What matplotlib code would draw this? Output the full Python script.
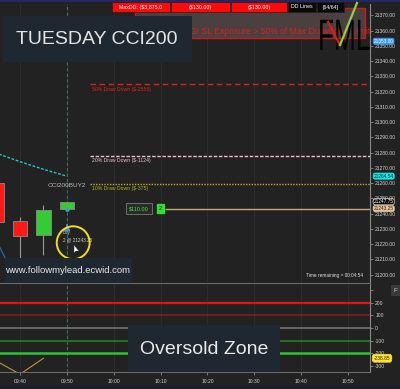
import matplotlib
matplotlib.use('Agg')
import matplotlib.pyplot as plt
from matplotlib.patches import Rectangle, PathPatch, Polygon
from matplotlib.lines import Line2D
from matplotlib.textpath import TextPath
from matplotlib.font_manager import FontProperties
from matplotlib.transforms import Affine2D, blended_transform_factory

plt.rcParams['font.family'] = ['Liberation Sans', 'DejaVu Sans']

W, H = 400, 389
BG = '#222222'

# 5 minute candles, time in minutes after midnight
candle_time = [575, 580, 585, 590]
candle_open = [21260.0, 21235.25, 21226.0, 21243.25]
candle_high = [21262.0, 21237.5, 21245.75, 21247.75]
candle_low = [21231.0, 21211.0, 21213.0, 21243.25]
candle_close = [21234.5, 21225.5, 21242.5, 21247.75]

# moving average (cyan dashed)
ma_time = [565, 570, 575, 580, 585, 590]
ma_value = [21291.0, 21285.0, 21279.5, 21274.0, 21269.0, 21264.54]

# CCI(200) values
cci_time = [570, 575, 580, 585]
cci_value = [-220.0, -262.0, -365.0, -238.85]
cci_levels = [200, 100, 0, -100, -200]
cci_level_colors = ['#e01414', '#8e1a1a', '#7a7a7a', '#1f8a1f', '#2fc42f']
cci_level_widths = [1.6, 1.1, 1.1, 1.1, 1.8]

# draw down lines
dd_start = 595
dd_price = [21324.75, 21277.75, 21259.5]
dd_text = ['50% Draw Down ($-2556)', '20% Draw Down ($-1124)', '10% Draw Down ($-375)']
dd_colors = ['#e02020', '#e8c0cc', '#b0b028']
dd_styles = [(0, (4, 2.5)), (0, (2.5, 1.2)), (0, (1, 1))]

entry_price = 21243.25
entry_time = 590
last_price = 21247.75
ma_last = 21264.54
blue_tag = 21353.0
cci_last = -238.85

time_ticks = [580, 590, 600, 610, 620, 630, 640, 650]
time_labels = ['09:40', '09:50', '10:00', '10:10', '10:20', '10:30', '10:40', '10:50']
price_ticks = list(range(21200, 21380, 10))
cci_ticks = [300, 200, 100, 0, -100, -200, -300]
cci_tick_labels = ['', '200', '100', '0', '-100', '-200', '-300']

fig = plt.figure(figsize=(W / 100, H / 100), dpi=100)
fig.patch.set_facecolor(BG)


def fbox(x0, y0, x1, y1, z=10, **kw):
    r = Rectangle((x0 / W, 1 - y1 / H), (x1 - x0) / W, (y1 - y0) / H,
                  transform=fig.transFigure, zorder=z, **kw)
    fig.add_artist(r)
    return r


def ftext(x, y, s, z=11, **kw):
    return fig.text(x / W, 1 - y / H, s, zorder=z, **kw)


ax = fig.add_axes([0, 1 - 282 / H, 370 / W, 278 / H])
cx = fig.add_axes([0, 1 - 372 / H, 370 / W, 89 / H])

for a in (ax, cx):
    a.set_facecolor(BG)
    for s in ('left', 'top', 'bottom'):
        a.spines[s].set_visible(False)
    a.spines['right'].set_color('#8a8a8a')
    a.spines['right'].set_linewidth(0.8)
    a.yaxis.tick_right()
    a.tick_params(axis='y', colors='#8a8a8a', labelcolor='#d2d2d2', labelsize=3.6,
                  length=2.5, width=0.6, pad=1.2)
    a.set_xlim(575.73, 654.69)
    a.set_xticks(time_ticks)
    a.grid(axis='x', color='#2f2f2f', linewidth=0.6)
    a.set_axisbelow(True)

# price panel
ax.set_ylim(21195.1, 21377.4)
ax.set_yticks(price_ticks)
ax.set_yticklabels([f'{v:.2f}' for v in price_ticks])
ax.tick_params(axis='x', length=0, labelbottom=False)

for t, o, h, l, c in zip(candle_time, candle_open, candle_high, candle_low, candle_close):
    col = '#33cc33' if c >= o else '#ff1a1a'
    ax.vlines(t, l, h, color='#9a9a9a', linewidth=0.8, zorder=2)
    ax.bar(t, abs(c - o), bottom=min(o, c), width=3.1, color=col,
           edgecolor='#8a8a8a', linewidth=0.6, zorder=3)

ax.plot(ma_time, ma_value, color='#1fc8c8', linewidth=1.0, linestyle=(0, (2, 1.2)), zorder=2)
ax.plot([575.5, 577.3], [21219, 21208], color='#2a6fb0', linewidth=0.8)

for p, txt, col, ls in zip(dd_price, dd_text, dd_colors, dd_styles):
    ax.hlines(p, dd_start, 660, color=col, linewidth=1.0, linestyle=ls)
    ax.text(dd_start + 0.3, p - 1.5, txt, color=col, fontsize=3.7, va='top', ha='left')

ax.hlines(entry_price, 610.9, 660, color='#c8a878', linewidth=1.0)
ax.text(603.3, entry_price, '$110.00', color='#40e040', fontsize=4.0, va='center', ha='left',
        bbox=dict(boxstyle='square,pad=0.6', facecolor='#2a2a2a', edgecolor='#7a7a7a', linewidth=0.6))
ax.text(610.0, entry_price, '2', color='#103010', fontsize=4.0, va='center', ha='center',
        bbox=dict(boxstyle='square,pad=0.4', facecolor='#33dd33', edgecolor='#33dd33'))

# cursor line and buy markers
ax.axvline(entry_time, color='#3d6e5e', linewidth=0.8, linestyle=(0, (3, 2)))
cx.axvline(entry_time, color='#3d6e5e', linewidth=0.8, linestyle=(0, (3, 2)))
ax.plot([entry_time], [entry_price - 12.5], marker='^', color='#3a9ae0', markersize=3.2, zorder=4)
ax.vlines(entry_time, entry_price - 13.5, entry_price - 10, color='#3a9ae0', linewidth=1.2, zorder=4)
ax.plot([entry_time], [entry_price - 0.5], marker='^', color='#3a9ae0', markersize=2.2, zorder=4)
ax.text(entry_time - 4.0, 21258.5, 'CCI200BUY2', color='#bdbdbd', fontsize=4.6, va='center', ha='left')
ax.text(entry_time - 0.8, entry_price - 16.0, 'Buy', color='#cfcfcf', fontsize=3.3, va='center', ha='left')
ax.text(entry_time - 0.9, entry_price - 20.8, '2 @ ' + f'{entry_price:.2f}', color='#cfcfcf',
        fontsize=3.3, va='center', ha='left')
ax.scatter([entry_time + 1.35], [entry_price - 22.4], s=560, facecolors='none',
           edgecolors='#f2e010', linewidths=1.4, zorder=5)

# right price tags
ytrans = blended_transform_factory(ax.transAxes, ax.transData)
tags = [(blue_tag, '#3a9cf0', 'white', '#3a9cf0'),
        (ma_last, '#14e8e8', '#102020', '#14e8e8'),
        (last_price, '#050505', 'white', '#e0e0e0'),
        (entry_price, '#e8c49a', '#201810', '#e8c49a')]
for p, fc, tc, ec in tags:
    ax.text(1.01, p, f'{p:.2f}', transform=ytrans, color=tc, fontsize=3.4, va='center',
            ha='left', clip_on=False, zorder=6,
            bbox=dict(boxstyle='round,pad=0.12,rounding_size=0.4', facecolor=fc,
                      edgecolor=ec, linewidth=0.5))

# CCI panel
cx.set_ylim(-347.5, 355.5)
cx.set_yticks(cci_ticks)
cx.set_yticklabels(cci_tick_labels)
cx.set_xticklabels(time_labels)
cx.tick_params(axis='x', colors='#8a8a8a', labelcolor='#d2d2d2', labelsize=3.6,
               length=2, width=0.6, pad=3.0)
cx.spines['top'].set_visible(True)
cx.spines['top'].set_color('#6a6a6a')
cx.spines['bottom'].set_visible(True)
cx.spines['bottom'].set_color('#6a6a6a')
for lv, col, lw in zip(cci_levels, cci_level_colors, cci_level_widths):
    cx.axhline(lv, color=col, linewidth=lw, zorder=2)
cx.plot(cci_time, cci_value, color='#b89838', linewidth=0.8, zorder=3)
cytrans = blended_transform_factory(cx.transAxes, cx.transData)
cx.text(1.01, cci_last, f'{cci_last:.2f}', transform=cytrans, color='#302800', fontsize=3.5,
        va='center', ha='left', clip_on=False, zorder=6,
        bbox=dict(boxstyle='round,pad=0.3,rounding_size=0.5', facecolor='#ffe234',
                  edgecolor='#ffe234', linewidth=0.5))

# overlays drawn in pixel positions
fbox(0, 0, 400, 2, facecolor='#262660', edgecolor='none')
fbox(0, 385, 400, 389, facecolor='#1c1c28', edgecolor='none')
fbox(135, 8, 365, 38, z=10, facecolor='#4a4040', edgecolor='#d01818', linewidth=1.0)
ftext(190, 32, 'GI SL Exposure > 50% of Max Drawdown Limit', z=11, color='#d82020',
      fontsize=6.2, va='center', ha='left')
for x0, x1, label, fc in [(112, 170, 'MaxDD: ($3,875.0', '#ff0a0a'),
                          (171, 230, '($130.00)', '#ff0a0a'),
                          (231, 287, '($130.00)', '#ff0a0a'),
                          (288, 316, 'DD Lines', '#0a0a0a'),
                          (317, 344, '[64/64]', '#0a0a0a')]:
    fbox(x0, 2, x1, 12, z=12, facecolor=fc, edgecolor='#202020', linewidth=0.5)
    ftext((x0 + x1) / 2, 7, label, z=13, color='white', fontsize=3.8, va='center', ha='center')

fbox(3, 16, 192, 62, z=14, facecolor='#1f2830', edgecolor='none')
ftext(97, 40, 'TUESDAY CCI200', z=15, color='#e4e4e4', fontsize=14, va='center', ha='center')

fbox(5, 258, 132, 283, z=14, facecolor='#1f2830', edgecolor='none')
ftext(68, 270.5, 'www.followmylead.ecwid.com', z=15, color='#e8e8e8', fontsize=6.8,
      va='center', ha='center')

fbox(128, 325, 280, 371, z=14, facecolor='#1f2830', edgecolor='none')
ftext(204, 349, 'Oversold Zone', z=15, color='#e8e8e8', fontsize=14, va='center', ha='center')

ftext(363, 275, 'Time remaining = 00:04:54', color='#e0e0e0', fontsize=3.4,
      va='center', ha='right')
fbox(391, 285, 400, 296, facecolor='#3a3a3a', edgecolor='none')
ftext(395.5, 290.5, 'F', color='#cfcfcf', fontsize=4.5, va='center', ha='center')

# FML logo
tp = TextPath((0, 0), 'FML', size=1, prop=FontProperties(family='Liberation Sans'))
logo_tr = Affine2D().scale(0.262, 0.44).translate(318 / 100, (H - 50) / 100) + fig.dpi_scale_trans
fig.add_artist(PathPatch(tp, transform=logo_tr, facecolor='#050505', edgecolor='none', zorder=16))
fig.add_artist(Line2D([328 / W, 340 / W], [1 - 22 / H, 1 - 45 / H], transform=fig.transFigure,
                      color='#e01818', linewidth=1.6, zorder=17))
fig.add_artist(Line2D([340 / W, 357 / W], [1 - 45 / H, 1 - 3 / H], transform=fig.transFigure,
                      color='#8ed040', linewidth=1.6, zorder=17))

# mouse pointer
fig.add_artist(Polygon([(74 / W, 1 - 245 / H), (74 / W, 1 - 253 / H), (76 / W, 1 - 251 / H),
                        (79 / W, 1 - 251 / H)], closed=True, transform=fig.transFigure,
                       facecolor='white', edgecolor='#333333', linewidth=0.3, zorder=18))

fig.savefig('out.png', dpi=100, facecolor=BG)
